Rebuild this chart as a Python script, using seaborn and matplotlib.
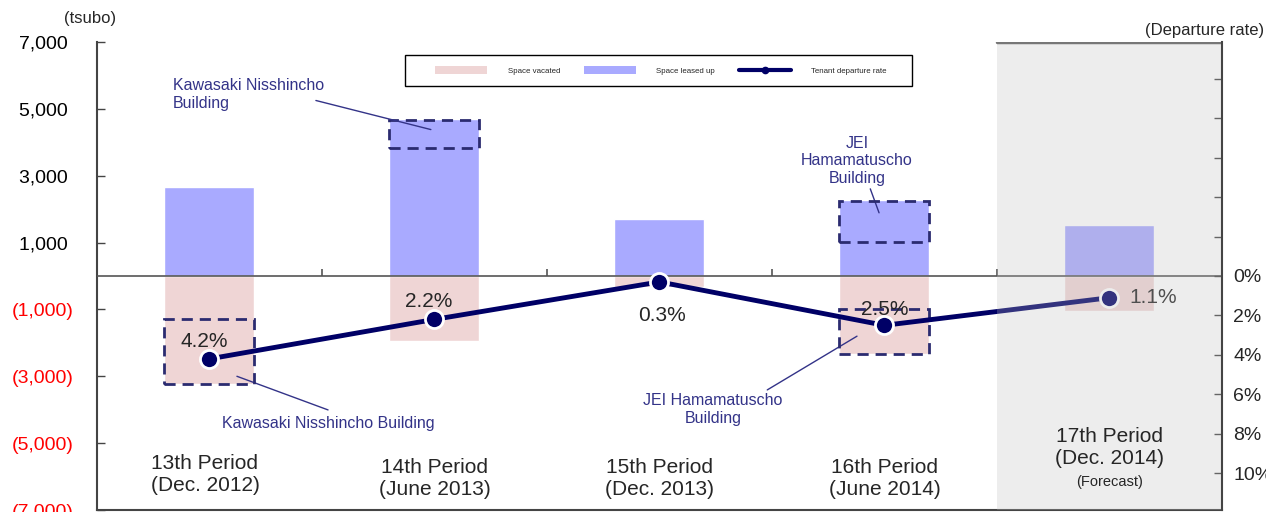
import matplotlib
matplotlib.use('Agg')
import matplotlib.pyplot as plt
import seaborn as sns
from matplotlib.patches import Rectangle, Patch
from matplotlib.lines import Line2D

# chart data
periods = ['13th Period\n(Dec. 2012)', '14th Period\n(June 2013)', '15th Period\n(Dec. 2013)',
           '16th Period\n(June 2014)', '17th Period\n(Dec. 2014)']
leased_up = [2670, 4710, 1710, 2280, 1530]
vacated = [3240, 1950, 330, 2340, 1050]
departure_rate = [4.2, 2.2, 0.3, 2.5, 1.1]

# building highlights (period index, low, high in tsubo)
box_period = [0, 1, 3, 3]
box_low = [-3240, 3840, 1020, -2340]
box_high = [-1290, 4680, 2250, -990]

left_ticks = [7000, 5000, 3000, 1000, -1000, -3000, -5000, -7000]
right_ticks = [-10, -8, -6, -4, -2, 0, 2, 4, 6, 8, 10]

sns.set_style('white')
plt.rcParams['font.family'] = ['Liberation Sans', 'DejaVu Sans']

navy = '#000066'
pink = '#efd5d5'
blue = '#a9aaff'
txt_blue = '#333388'
box_col = '#2b2b70'

fig = plt.figure(figsize=(12.66, 5.12), dpi=100)
ax = fig.add_axes([0.0766, 0.0039, 0.8886, 0.9141])

x = list(range(len(periods)))
sns.barplot(x=periods, y=leased_up, color=blue, width=0.4, saturation=1, ax=ax, zorder=2)
sns.barplot(x=periods, y=[-v for v in vacated], color=pink, width=0.4, saturation=1, ax=ax, zorder=2)

ax.set_xlim(-0.5, 4.5)
ax.set_ylim(-7000, 7000)
ax.set_xticks([])
ax.set_xlabel('')
ax.set_ylabel('')
ax.set_yticks(left_ticks)
ax.set_yticklabels([f'{v:,} ' if v > 0 else f'({-v:,})' for v in left_ticks])
ax.tick_params(axis='y', direction='in', length=6, width=1, color='#444444', pad=17, labelsize=14)
for lbl, v in zip(ax.get_yticklabels(), left_ticks):
    lbl.set_color('black' if v > 0 else 'red')

for s in ['top', 'right']:
    ax.spines[s].set_visible(False)
for s in ['left', 'bottom']:
    ax.spines[s].set_color('#444444')
    ax.spines[s].set_linewidth(1.5)

# zero line with boundary ticks
ax.axhline(0, color='#555555', lw=1.2, zorder=3)
ax.vlines([i + 0.5 for i in x[:-1]], 0, 220, color='#555555', lw=1.2, zorder=3)

# dashed highlight boxes
for p, lo, hi in zip(box_period, box_low, box_high):
    ax.add_patch(Rectangle((p - 0.2, lo), 0.4, hi - lo, fill=False, edgecolor=box_col,
                           lw=2, linestyle=(0, (4, 2.5)), zorder=4))

# building annotations
ax.text(-0.162, 5430, 'Kawasaki Nisshincho\nBuilding', ha='left', va='center', fontsize=11.5,
        color=txt_blue, linespacing=1.2)
ax.plot([0.473, 0.984], [5250, 4380], color=txt_blue, lw=1, zorder=5)
ax.annotate('Kawasaki Nisshincho Building', xy=(0.122, -3000), xytext=(0.527, -4410),
            ha='center', va='center', fontsize=11.5, color=txt_blue,
            arrowprops=dict(arrowstyle='-', color=txt_blue, lw=1, shrinkA=0, shrinkB=0,
                            relpos=(0.5, 1.4)))
ax.annotate('JEI\nHamamatuscho\nBuilding', xy=(2.976, 1890), xytext=(2.878, 3450),
            ha='center', va='center', fontsize=11.5, color=txt_blue, linespacing=1.2,
            arrowprops=dict(arrowstyle='-', color=txt_blue, lw=1, shrinkA=0, shrinkB=0,
                            relpos=(0.6, 0.05)))
ax.annotate('JEI Hamamatuscho\nBuilding', xy=(2.878, -1800), xytext=(2.238, -3990),
            ha='center', va='center', fontsize=11.5, color=txt_blue, linespacing=1.2,
            arrowprops=dict(arrowstyle='-', color=txt_blue, lw=1, shrinkA=0, shrinkB=0,
                            relpos=(0.85, 1.0)))

# departure rate line
ax2 = ax.twinx()
sns.lineplot(x=x, y=departure_rate, ax=ax2, color=navy, linewidth=3.5, marker='o',
             markersize=13, markeredgecolor='white', markeredgewidth=2, zorder=4)
ax2.set_ylim(11.86, -11.86)
ax2.set_yticks(right_ticks)
ax2.set_yticklabels([f'{v}%' if v >= 0 else '' for v in right_ticks])
ax2.tick_params(axis='y', direction='in', length=6, width=1, color='#444444', pad=8, labelsize=14)
ax2.set_ylabel('')
for s in ['top', 'left', 'bottom']:
    ax2.spines[s].set_visible(False)
ax2.spines['right'].set_color('#444444')
ax2.spines['right'].set_linewidth(1.5)
ax2.spines['right'].set_zorder(10)

label_offsets = [(-3.6, 12.2), (-4.3, 13), (2, -24), (0, 11.5), (14, 0)]
for i, r, off in zip(x, departure_rate, label_offsets):
    ax2.annotate(f'{r}%', (i, r), xytext=off, textcoords='offset points',
                 ha='left' if i == 4 else 'center', va='center', fontsize=15, zorder=4)

# forecast shading
ax2.axvspan(3.5, 4.5, color='#c0c0c0', alpha=0.27, lw=0, zorder=5)
ax2.axhline(-11.86, xmin=0.8, xmax=1, color='#777777', lw=2.5, zorder=6)

# category labels
cat_y = [-5940, -6060, -6060, -6060, -5130]
for i, lab, yy in zip(x, periods, cat_y):
    ax2.text(i - (0.02 if i == 0 else 0), yy, lab, transform=ax.transData, ha='center',
             va='center', fontsize=15, linespacing=1.2, zorder=6)
ax2.text(4, -6150, '(Forecast)', transform=ax.transData, ha='center', va='center',
         fontsize=10.5, zorder=6)

# legend
ax.add_patch(Rectangle((0.2738, 0.9056), 0.4507, 0.0665, transform=ax.transAxes,
                       fill=True, facecolor='white', edgecolor='black', lw=1, zorder=6))
handles = [Patch(facecolor=pink, edgecolor='none'),
           Patch(facecolor=blue, edgecolor='none'),
           Line2D([], [], color=navy, lw=3, marker='o', markersize=4.5)]
leg = ax.legend(handles, ['Space vacated', 'Space leased up', 'Tenant departure rate'],
                bbox_to_anchor=(0.3004, 0.9388, 0.4018, 0.0), loc='center', mode='expand',
                ncol=3, fontsize=5.7, frameon=False, handlelength=6.6, handleheight=1.0,
                handletextpad=2.6, borderpad=0, borderaxespad=0)
leg.set_zorder(7)

fig.text(90 / 1266, 1 - 18 / 512, '(tsubo)', ha='center', va='center', fontsize=12)
fig.text(1264 / 1266, 1 - 30 / 512, '(Departure rate)', ha='right', va='center', fontsize=12)

fig.savefig('out.png', dpi=100)
